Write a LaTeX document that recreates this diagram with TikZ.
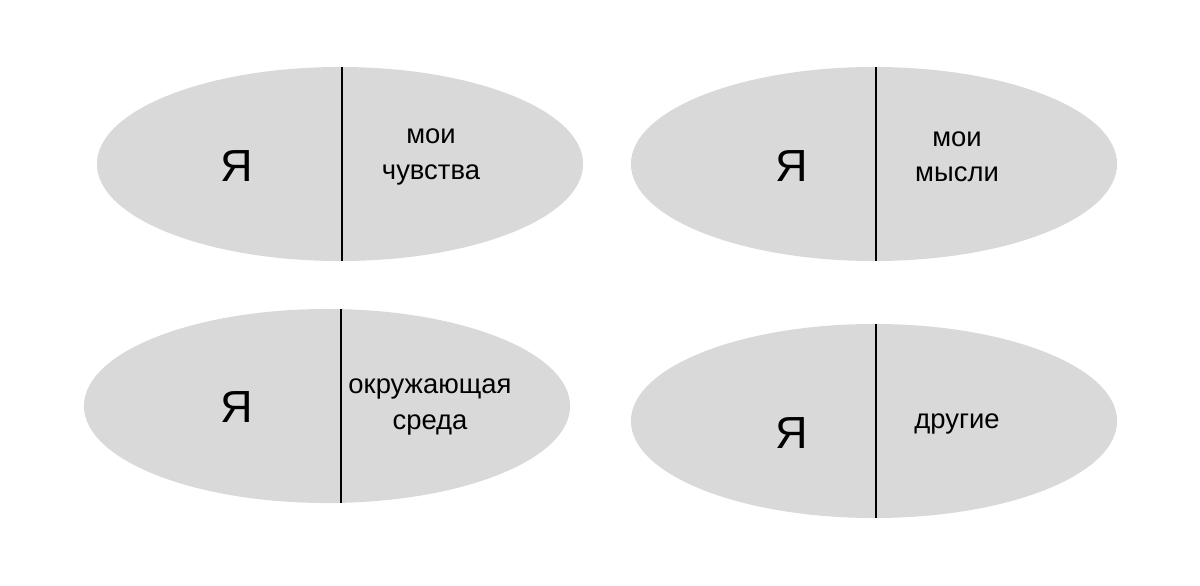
\documentclass[tikz,border=0pt]{standalone}
\usepackage{fontspec}
\setmainfont{Liberation Sans}
\usetikzlibrary{shapes.geometric}
\definecolor{lightgrey}{HTML}{D9D9D9}
\tikzset{
	half/.style={ellipse, fill=lightgrey, inner sep=0pt, minimum width=12.15cm, minimum height=4.85cm},
	ya/.style={font=\fontsize{32}{36}\selectfont},
	word/.style={font=\fontsize{19.5}{25}\selectfont, align=center},
	divide/.style={draw=black, line width=0.9pt}
}
\begin{document}
\begin{tikzpicture}[x=0.025cm, y=-0.025cm]

	\useasboundingbox (0,0) rectangle (1200,585);

	\node[half] (e1) at (340,164) {};
	\node[half] (e2) at (874,164) {};
	\node[half] (e3) at (327,406) {};
	\node[half] (e4) at (874,421) {};

	\draw[divide] ([xshift=0.05cm]e1.north) -- ([xshift=0.05cm]e1.south);
	\draw[divide] ([xshift=0.05cm]e2.north) -- ([xshift=0.05cm]e2.south);
	\draw[divide] ([xshift=0.35cm]e3.north) -- ([xshift=0.35cm]e3.south);
	\draw[divide] ([xshift=0.05cm]e4.north) -- ([xshift=0.05cm]e4.south);

	\node[ya] (ya1) at (237,166) {Я};
	\node[ya] (ya2) at (792,166) {Я};
	\node[ya] (ya3) at (237,407) {Я};
	\node[ya] (ya4) at (792,433) {Я};

	\node[word] (feel) at (431,157) {мои\\чувства};
	\node[word] (think) at (957,157) {мои\\мысли};
	\node[word] (env) at (430,407) {окружающая\\среда};
	\node[word] (others) at (957,424) {другие};

\end{tikzpicture}
\end{document}
